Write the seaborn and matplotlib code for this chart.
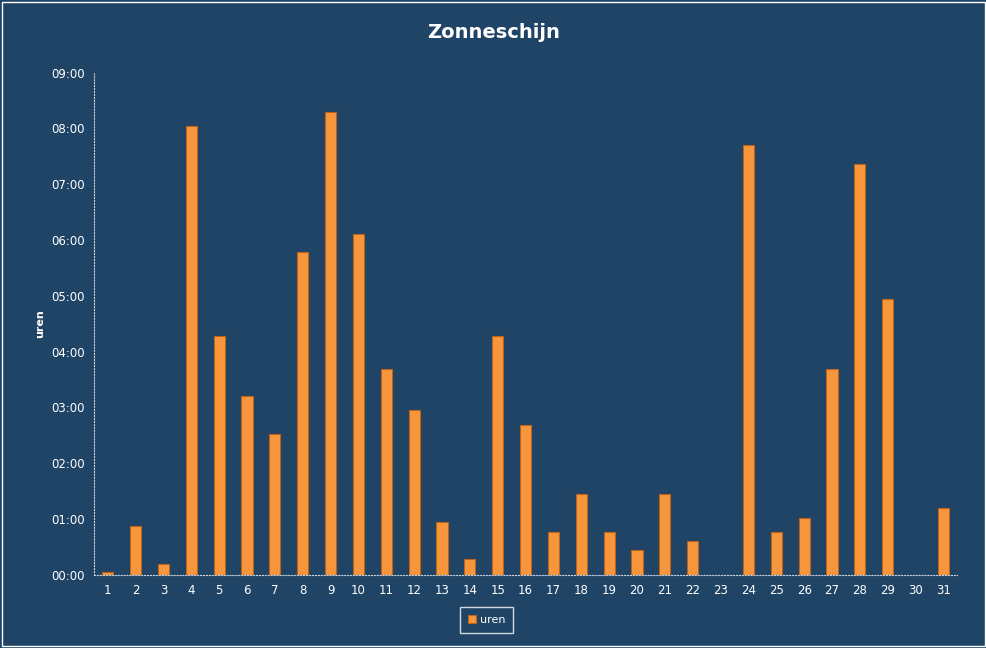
import matplotlib
matplotlib.use("Agg")
import matplotlib.pyplot as plt
import seaborn as sns
import pandas as pd
from matplotlib.ticker import FuncFormatter

days = [str(d) for d in range(1, 32)]
uren = [0.05, 0.88, 0.2, 8.05, 4.28, 3.2, 2.53, 5.79, 8.3, 6.11, 3.69, 2.96, 0.95, 0.29,
        4.28, 2.69, 0.77, 1.45, 0.77, 0.45, 1.45, 0.61, 0.0, 7.71, 0.77, 1.02, 3.69,
        7.37, 4.95, 0.0, 1.2]
df = pd.DataFrame({"dag": days, "uren": uren})

bg = "#1f4466"
sns.set_style("white")
fig = plt.figure(figsize=(9.87, 6.48), dpi=100, facecolor=bg)
ax = fig.add_axes([0.095, 0.113, 0.875, 0.775])
ax.set_facecolor(bg)
sns.barplot(data=df, x="dag", y="uren", color="#f7963c", saturation=1, width=0.4, ax=ax,
            edgecolor="#c0631a", linewidth=0.8, label="uren")
ax.set_ylim(0, 9)
ax.set_yticks(range(0, 10))
ax.yaxis.set_major_formatter(FuncFormatter(lambda v, p: f"{int(v):02d}:00"))
ax.tick_params(colors="white", labelsize=8.5, length=3)
for s in ["top", "right"]:
    ax.spines[s].set_visible(False)
for s in ["left", "bottom"]:
    ax.spines[s].set_color("#c8d0dc")
    ax.spines[s].set_linestyle(":")
ax.set_xlabel("")
ax.set_ylabel("uren", color="white", fontsize=8, fontweight="bold")
fig.text(0.5, 0.95, "Zonneschijn", color="white", fontsize=14, fontweight="bold",
         ha="center", va="center")
leg = ax.legend(loc="upper center", bbox_to_anchor=(0.455, -0.06), frameon=True,
                fontsize=8, handlelength=0.7, handletextpad=0.4)
leg.get_frame().set_facecolor(bg)
leg.get_frame().set_edgecolor("white")
leg.get_frame().set_boxstyle("square")
for t in leg.get_texts():
    t.set_color("white")
fig.patches.append(plt.Rectangle((0.002, 0.003), 0.996, 0.994, transform=fig.transFigure,
                                 fill=False, edgecolor="white", linewidth=1))
fig.savefig("out.png", dpi=100, facecolor=bg)
